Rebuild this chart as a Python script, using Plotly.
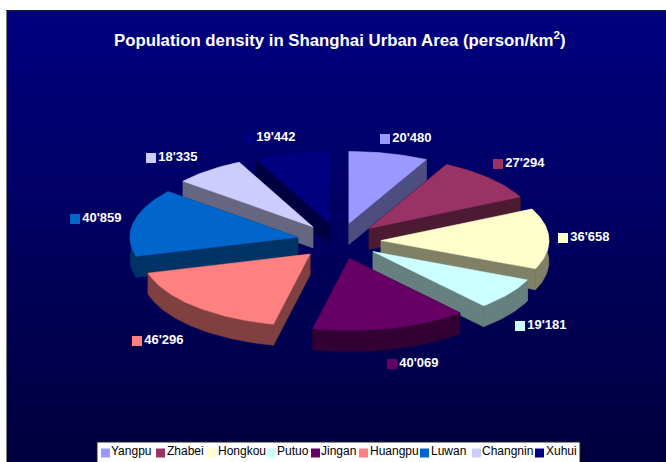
import math
import plotly.graph_objects as go

# ---- data ----
districts = ["Yangpu", "Zhabei", "Hongkou", "Putuo", "Jingan", "Huangpu", "Luwan", "Changnin", "Xuhui"]
density = [20480, 27294, 36658, 19181, 40069, 46296, 40859, 18335, 19442]
value_labels = ["20'480", "27'294", "36'658", "19'181", "40'069", "46'296", "40'859", "18'335", "19'442"]
colors = ["#9999FF", "#993366", "#FFFFCC", "#CCFFFF", "#660066", "#FF8080", "#0066CC", "#CCCCFF", "#000080"]
side_colors = ["#4D4D80", "#4D1A33", "#808066", "#668080", "#330033", "#804040", "#003366", "#666680", "#000040"]

# ---- layout of the tilted exploded pie (pixel-scaled axes) ----
W, H = 666, 462
CX, CY = 339, 241
RX, RY = 168, 72
EXPLODE = 42
DEPTH = 21

label_x = [385, 498, 563, 520, 392, 137, 75, 151, 249]
label_y = [139, 164, 238, 326, 364, 341, 219, 158, 138]
legend_key_x = [105.5, 160.5, 211.5, 271.5, 315.5, 363.5, 424.5, 476.5, 539.5]
legend_text_x = [111, 167, 218, 277, 321, 370, 431, 482, 546]
LEGEND_KEY_Y = 453
LEGEND_TEXT_Y = 451.5

FONT = "Liberation Sans, Arial, sans-serif"
TOP, BOTTOM = 11, 462


def project(deg, radius=1.0):
    a = math.radians(deg)
    return RX * radius * math.sin(a), -RY * radius * math.cos(a)


total = sum(density)
slices = []
start = 0.0
for i, v in enumerate(density):
    end = start + 360.0 * v / total
    mid = (start + end) / 2
    ex, ey = project(mid, EXPLODE / RX)
    ax, ay = CX + ex, CY + ey
    n = max(2, int(end - start) + 1)
    arc = []
    for k in range(n + 1):
        px, py = project(start + (end - start) * k / n)
        arc.append((ax + px, ay + py))
    slices.append({"i": i, "apex": (ax, ay), "arc": arc, "depth": -math.cos(math.radians(mid))})
    start = end

fig = go.Figure()

# background gradient panel
rows = BOTTOM - TOP
fig.add_trace(go.Heatmap(
    x=[7, W], y=[TOP + r for r in range(rows + 1)], z=[[r] for r in range(rows)],
    colorscale=[[0, "rgb(0,0,128)"], [1, "rgb(0,0,62)"]], showscale=False, hoverinfo="skip"))


def poly(points):
    return [p[0] for p in points] + [points[0][0]], [p[1] for p in points] + [points[0][1]]


def down(points):
    return [(x, y + DEPTH) for x, y in points]


def add_face(points, color, name=None):
    x, y = poly(points)
    fig.add_trace(go.Scatter(x=x, y=y, mode="lines", fill="toself", fillcolor=color,
                             line=dict(color=color, width=0.5), name=name,
                             hoverinfo="skip", showlegend=False))


for s in sorted(slices, key=lambda d: d["depth"]):
    i, apex, arc = s["i"], s["apex"], s["arc"]
    add_face([apex, arc[0]] + down([arc[0], apex]), side_colors[i])
    add_face([apex, arc[-1]] + down([arc[-1], apex]), side_colors[i])
    add_face(arc + down(arc)[::-1], side_colors[i])
    add_face([apex] + arc, colors[i], districts[i])

# value labels with their colour keys
fig.add_trace(go.Scatter(x=label_x, y=label_y, mode="markers+text", text=value_labels,
                         textposition="middle right",
                         textfont=dict(family=FONT, size=13, color="white", weight="bold"),
                         marker=dict(symbol="square", size=10, color=colors),
                         hoverinfo="skip", showlegend=False))

# legend strip
fig.add_trace(go.Scatter(x=[97, 580, 580, 97, 97], y=[442, 442, 463, 463, 442], mode="lines", fill="toself",
                         fillcolor="white", line=dict(color="#222222", width=1),
                         hoverinfo="skip", showlegend=False))
fig.add_trace(go.Scatter(x=legend_key_x, y=[LEGEND_KEY_Y] * len(districts), mode="markers",
                         marker=dict(symbol="square", size=9, color=colors),
                         hoverinfo="skip", showlegend=False))
fig.add_trace(go.Scatter(x=legend_text_x, y=[LEGEND_TEXT_Y] * len(districts), mode="text", text=districts,
                         textposition="middle right",
                         textfont=dict(family=FONT, size=12, color="#000000"),
                         hoverinfo="skip", showlegend=False))

shapes = [
    dict(type="rect", xref="x", yref="y", x0=6, x1=7, y0=TOP, y1=BOTTOM, layer="below",
         fillcolor="#808080", line=dict(width=0)),
    dict(type="rect", xref="x", yref="y", x0=6, x1=W, y0=TOP - 1, y1=TOP, layer="below",
         fillcolor="#202040", line=dict(width=0)),
]

fig.update_layout(
    width=W, height=H, margin=dict(l=0, r=0, t=0, b=0),
    paper_bgcolor="white", plot_bgcolor="rgba(0,0,0,0)",
    shapes=shapes,
    xaxis=dict(range=[0, W], visible=False, fixedrange=True),
    yaxis=dict(range=[H, 0], visible=False, fixedrange=True),
    annotations=[dict(text="Population density in Shanghai Urban Area (person/km<sup>2</sup>)",
                      x=340, y=39, xref="x", yref="y", showarrow=False,
                      font=dict(family=FONT, size=16.8, color="white", weight="bold"))],
)

fig.write_html("out.html", config={"displayModeBar": False},
               post_script="document.body.style.margin='0';document.body.style.overflow='hidden';")
